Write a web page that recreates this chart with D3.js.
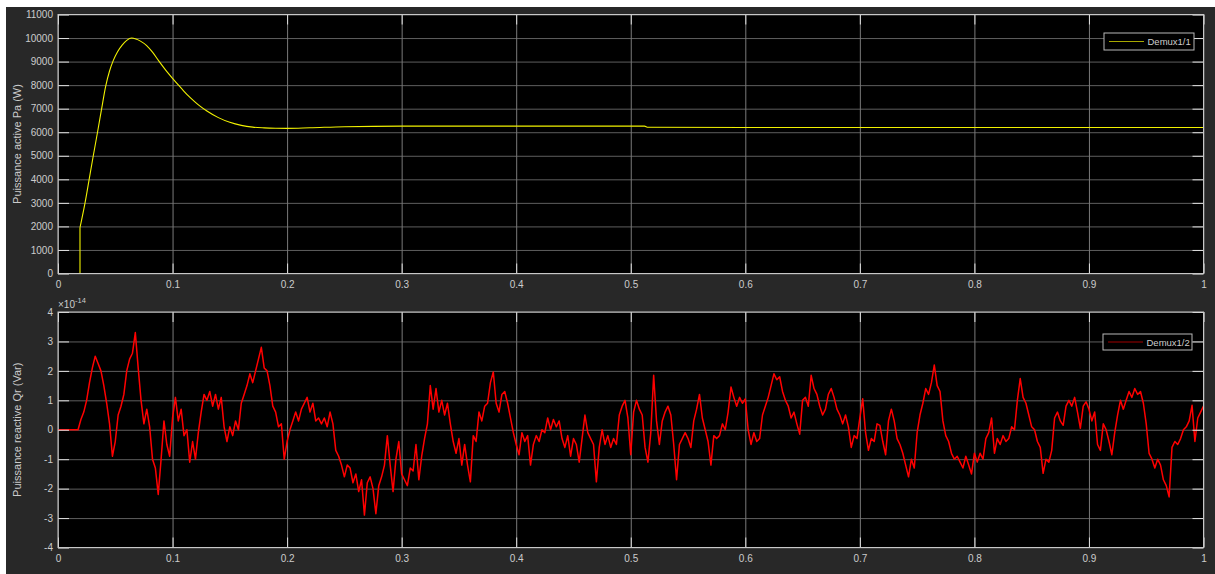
<!DOCTYPE html>
<html>
<head>
<meta charset="utf-8">
<script src="https://cdn.jsdelivr.net/npm/d3@7"></script>
<style>
  html, body { margin: 0; padding: 0; background: #ffffff; }
  svg { display: block; }
  text { font-family: "Liberation Sans", Arial, Helvetica, sans-serif; }
</style>
</head>
<body>
<svg id="chart" width="1215" height="574"></svg>
<script>
// ---------------- DATA ----------------
const xTicks = [0, 0.1, 0.2, 0.3, 0.4, 0.5, 0.6, 0.7, 0.8, 0.9, 1];
const xTickLabels = ["0", "0.1", "0.2", "0.3", "0.4", "0.5", "0.6", "0.7", "0.8", "0.9", "1"];
const pTicks = [0, 1000, 2000, 3000, 4000, 5000, 6000, 7000, 8000, 9000, 10000, 11000];
const qTicks = [-4, -3, -2, -1, 0, 1, 2, 3, 4];

// Active power Pa (W) : time (s) and value
const pTime = [0, 0.0192, 0.0192, 0.0236, 0.0272, 0.0308, 0.0345, 0.0381, 0.0416, 0.045, 0.0483, 0.052, 0.056, 0.06, 0.0643,
  0.068, 0.072, 0.0774, 0.0825, 0.0881, 0.094, 0.1, 0.105, 0.11, 0.115, 0.12, 0.124, 0.13, 0.14, 0.15, 0.16, 0.17, 0.18,
  0.19, 0.2, 0.22, 0.25, 0.3, 0.4, 0.5, 0.512, 0.515, 0.6, 0.8, 1.0];
const pValues = [0, 0, 1950, 3000, 4000, 5000, 6000, 7000, 7950, 8600, 9050, 9420, 9700, 9900, 10000,
  9960, 9870, 9680, 9400, 9020, 8640, 8290, 8010, 7740, 7490, 7270, 7110, 6900, 6620, 6420, 6290, 6215, 6185,
  6170, 6165, 6190, 6235, 6260, 6260, 6260, 6260, 6210, 6200, 6200, 6200];

// Reactive power Qr (x 1e-14 Var), sampled every qStep seconds from t = 0
const qStep = 0.0025;
const qValues = [
  0, 0, 0, 0, 0, 0, 0, 0, 0.35, 0.6,
  1.0, 1.6, 2.1, 2.5, 2.25, 2.0, 1.5, 0.9, 0.2, -0.9,
  -0.4, 0.5, 0.8, 1.2, 2.0, 2.4, 2.6, 3.3, 2.1, 1.0,
  0.2, 0.7, 0.1, -1.0, -1.3, -2.2, -1.0, 0.3, -0.5, -0.9,
  0.4, 1.1, 0.3, 0.7, -0.2, 0.0, -1.1, -0.4, -1.0, -0.1,
  0.6, 1.2, 1.0, 1.3, 0.8, 1.2, 0.7, 1.1, 0.1, -0.4,
  0.1, -0.2, 0.3, 0.0, 0.9, 1.2, 1.5, 1.9, 1.6, 2.0,
  2.4, 2.8, 2.1, 2.0, 1.5, 0.8, 0.6, 0.1, 0.2, -1.0,
  -0.4, 0.0, 0.3, 0.6, 0.3, 0.7, 0.9, 1.1, 0.6, 0.9,
  0.3, 0.4, 0.2, 0.4, 0.1, 0.6, 0.2, -0.7, -0.9, -1.2,
  -1.6, -1.2, -1.3, -1.8, -1.5, -2.1, -1.7, -2.9, -1.8, -1.6,
  -2.0, -2.85, -1.9, -1.6, -1.2, -0.2, -1.2, -2.1, -1.0, -0.4,
  -1.5, -1.7, -1.9, -1.3, -1.4, -0.5, -1.7, -0.9, -0.3, 0.2,
  1.5, 0.7, 1.4, 0.6, 1.0, 0.5, 0.9, 0.2, -0.4, -0.8,
  -0.3, -1.2, -0.5, -1.2, -1.77, -0.2, -0.4, 0.6, 0.3, 0.8,
  0.9, 1.6, 1.96, 0.9, 0.6, 1.2, 1.3, 0.9, 0.4, -0.1,
  -0.5, -0.85, -0.1, -0.4, -0.2, -1.2, -0.5, -0.2, -0.4, 0.0,
  -0.1, 0.4, 0.0, 0.35, 0.1, 0.3, -0.3, -0.6, -0.2, -0.9,
  -0.3, -0.5, -1.1, -0.3, 0.5, -0.1, -0.3, -0.5, -1.77, -0.6,
  0.0, -0.5, -0.2, -0.6, -0.3, -0.5, 0.5, 0.8, 1.0, 0.4,
  -0.85, 0.6, 1.0, 0.7, 0.5, -0.6, -1.1, -0.1, 1.85, 0.3,
  -0.5, 0.3, 0.6, 0.8, 0.5, -0.5, -1.7, -0.5, -0.3, -0.1,
  -0.3, -0.6, 0.3, 0.7, 1.2, 0.4, 0.0, -0.4, -1.2, -0.2,
  -0.3, -0.2, 0.2, 0.0, 0.6, 1.45, 1.1, 0.8, 1.1, 0.9,
  1.05, 0.0, -0.5, -0.1, -0.4, -0.3, 0.5, 0.8, 1.1, 1.5,
  1.9, 1.7, 1.8, 1.3, 1.0, 0.8, 0.4, 0.6, 0.2, -0.15,
  1.0, 1.1, 0.8, 1.85, 1.4, 1.2, 0.8, 0.5, 0.7, 1.2,
  1.4, 1.1, 0.7, 0.5, 0.2, 0.5, 0.1, -0.6, -0.2, -0.3,
  0.4, 1.05, -0.1, -0.7, -0.3, -0.4, 0.2, 0.15, -0.4, -0.85,
  0.3, 0.7, 0.3, -0.3, -0.5, -0.8, -1.2, -1.6, -1.0, -1.3,
  -0.1, 0.5, 0.9, 1.4, 1.2, 1.6, 2.2, 1.5, 1.3, 0.3,
  -0.2, -0.4, -0.8, -1.0, -0.9, -1.1, -1.3, -0.9, -1.2, -1.5,
  -0.8, -1.1, -0.8, -1.0, -0.3, -0.1, 0.4, -0.8, -0.3, -0.5,
  -0.2, -0.4, -0.3, 0.1, 0.0, 1.0, 1.74, 1.1, 0.9, 0.5,
  0.1, 0.0, -0.4, -0.6, -1.48, -1.0, -1.1, -0.7, 0.4, 0.6,
  0.3, 0.15, 0.8, 1.0, 0.8, 1.1, 0.6, 0.05, 0.8, 0.95,
  0.7, 0.3, 0.6, -0.5, -0.7, 0.2, 0.0, -0.4, -0.85, -0.1,
  0.5, 1.0, 0.7, 1.0, 1.3, 1.1, 1.4, 1.2, 1.3, 0.9,
  0.2, -0.8, -1.0, -1.3, -1.0, -1.2, -1.7, -1.9, -2.28, -0.6,
  -0.4, -0.5, -0.3, 0.0, 0.1, 0.3, 0.83, -0.4, 0.4, 0.6,
  0.8
];

const pLabel = "Puissance active Pa (W)";
const qLabel = "Puissance reactive Qr (Var)";
const pLegend = "Demux1/1";
const qLegend = "Demux1/2";

// ---------------- DRAWING ----------------
const svg = d3.select("#chart");
const W = 1215, H = 574;

// figure background
svg.append("rect").attr("x", 6).attr("y", 7).attr("width", W - 6).attr("height", H - 7).attr("fill", "#282828");

const left = 58, right = 1203.5;
const x = d3.scaleLinear().domain([0, 1]).range([left, right]);

const pData = pTime.map((t, i) => [t, pValues[i]]);
const panels = [
  { top: 14.5, bottom: 273.5, domain: [0, 11000], ticks: pTicks, label: pLabel, legend: pLegend,
    color: "#f2f200", legendColor: "#a8a800", width: 1.1,
    segments: [{ data: pData.slice(0, 3), curve: d3.curveLinear }, { data: pData.slice(2), curve: d3.curveMonotoneX }],
    legendBox: [1104, 33, 90, 17] },
  { top: 312, bottom: 547.5, domain: [-4, 4], ticks: qTicks, label: qLabel, legend: qLegend,
    color: "#ff0000", legendColor: "#a00000", width: 1.5,
    segments: [{ data: qValues.map((v, i) => [i * qStep, v]), curve: d3.curveLinear }],
    legendBox: [1103, 334, 89, 16] }
];

const textColor = "#cccccc";
const boxColor = "#c8c8c8";

panels.forEach((p, pi) => {
  const y = d3.scaleLinear().domain(p.domain).range([p.bottom, p.top]);
  const h = p.bottom - p.top;
  const g = svg.append("g");

  // axes background
  g.append("rect").attr("x", left).attr("y", p.top).attr("width", right - left).attr("height", h).attr("fill", "#000000");

  // horizontal grid
  const hg = g.append("g").attr("transform", `translate(${left},0)`)
    .call(d3.axisLeft(y).tickValues(p.ticks).tickSize(-(right - left)).tickFormat(""));
  hg.select(".domain").remove();
  hg.selectAll("line").attr("stroke", "#5e5e5e").attr("stroke-width", 1);

  // vertical grid
  const vg = g.append("g").attr("transform", `translate(0,${p.bottom})`)
    .call(d3.axisBottom(x).tickValues(xTicks).tickSize(-h).tickFormat(""));
  vg.select(".domain").remove();
  vg.selectAll("line").attr("stroke", "#7a7a7a").attr("stroke-width", 1);

  // data line(s)
  p.segments.forEach(s => {
    const line = d3.line().x(d => x(d[0])).y(d => y(d[1])).curve(s.curve);
    g.append("path").datum(s.data).attr("d", line)
      .attr("fill", "none").attr("stroke", p.color).attr("stroke-width", p.width)
      .attr("stroke-linejoin", "round");
  });

  // axes ticks: bottom (labels), top, left (labels), right
  const ax = g.append("g").attr("transform", `translate(0,${p.bottom})`)
    .call(d3.axisBottom(x).tickValues(xTicks).tickSize(-10).tickPadding(7)
      .tickFormat((d, i) => xTickLabels[i]));
  const at = g.append("g").attr("transform", `translate(0,${p.top})`)
    .call(d3.axisTop(x).tickValues(xTicks).tickSize(-10).tickFormat(""));
  const al = g.append("g").attr("transform", `translate(${left},0)`)
    .call(d3.axisLeft(y).tickValues(p.ticks).tickSize(-11).tickPadding(5).tickFormat(d => String(d)));
  const ar = g.append("g").attr("transform", `translate(${right},0)`)
    .call(d3.axisRight(y).tickValues(p.ticks).tickSize(-11).tickFormat(""));
  [ax, at, al, ar].forEach(a => {
    a.select(".domain").remove();
    a.selectAll("line").attr("stroke", "#e0e0e0").attr("stroke-width", 1);
    a.selectAll("text").attr("fill", textColor).style("font-size", "10px")
      .style("font-family", "'Liberation Sans', Arial, Helvetica, sans-serif");
  });

  // box
  g.append("rect").attr("x", left).attr("y", p.top).attr("width", right - left).attr("height", h)
    .attr("fill", "none").attr("stroke", boxColor).attr("stroke-width", 1);

  // y label
  g.append("text")
    .attr("transform", `translate(20.5,${(p.top + p.bottom) / 2}) rotate(-90)`)
    .attr("text-anchor", "middle").attr("fill", textColor).style("font-size", "11px")
    .text(p.label);

  // legend
  const [lx, ly, lw, lh] = p.legendBox;
  g.append("rect").attr("x", lx).attr("y", ly).attr("width", lw).attr("height", lh)
    .attr("fill", "#000000").attr("stroke", "#b8b8b8").attr("stroke-width", 1);
  g.append("line").attr("x1", lx + 5).attr("x2", lx + 40).attr("y1", ly + lh / 2).attr("y2", ly + lh / 2)
    .attr("stroke", p.legendColor).attr("stroke-width", 1);
  g.append("text").attr("x", lx + 43.5).attr("y", ly + lh / 2 + 3.5)
    .attr("fill", textColor).style("font-size", "9.5px").text(p.legend);

  // exponent for Q panel
  if (pi === 1) {
    const ex = g.append("text").attr("x", left).attr("y", p.top - 4.5)
      .attr("fill", textColor).style("font-size", "10px");
    ex.append("tspan").text("\u00d710");
    ex.append("tspan").attr("dy", -5).style("font-size", "7.5px").text("-14");
  }
});
</script>
</body>
</html>
